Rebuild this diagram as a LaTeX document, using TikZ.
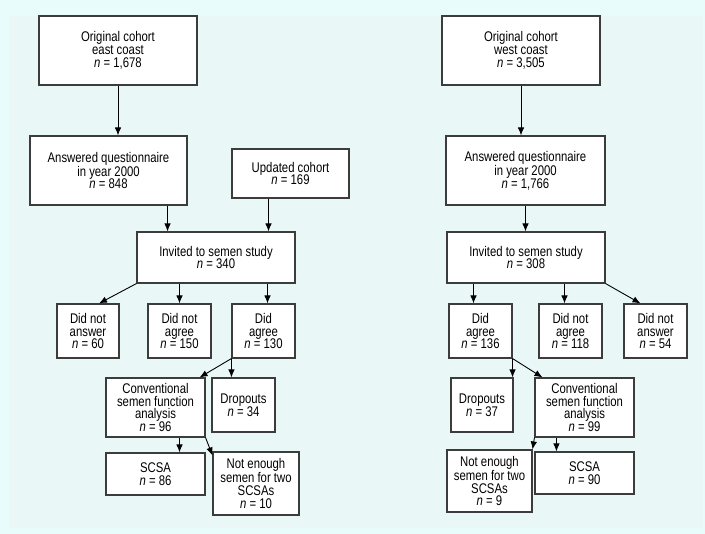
\documentclass[tikz,border=0pt]{standalone}
\usepackage{fontspec}
\setmainfont[FakeStretch=0.81]{Liberation Sans}
\usetikzlibrary{arrows.meta}
\definecolor{bgout}{RGB}{232,252,252}
\definecolor{bgin}{RGB}{234,247,247}
\definecolor{boxline}{RGB}{60,60,60}
\tikzset{
  box/.style={draw=boxline, line width=1.1pt, fill=white, align=center, inner sep=0pt},
  arr/.style={-{Latex[length=8pt,width=6.5pt]}, line width=0.9pt, black}
}
\newcommand{\nn}{\textit{n}}
\begin{document}
\begin{tikzpicture}[x=1pt, y=-1pt, font=\fontsize{14}{12.9}\selectfont]
    \useasboundingbox (0,0) rectangle (705,534);
    \fill[bgout] (0,0) rectangle (705,534);
    \fill[bgin] (9,16) rectangle (703,528);

    % east coast
    \node[box, minimum width=158pt, minimum height=69pt] (oe) at (118,50.5) {Original cohort\\east coast\\\nn{} = 1,678};
    \node[box, minimum width=157pt, minimum height=69pt] (ae) at (108.5,170.5) {Answered questionnaire\\in year 2000\\\nn{} = 848};
    \node[box, minimum width=117pt, minimum height=49pt] (upd) at (290.5,173.5) {Updated cohort\\\nn{} = 169};
    \node[box, minimum width=158pt, minimum height=51pt] (ie) at (216,257.5) {Invited to semen study\\\nn{} = 340};
    \node[box, minimum width=62pt, minimum height=54pt] (nae) at (88,331) {Did not\\answer\\\nn{} = 60};
    \node[box, minimum width=63pt, minimum height=54pt] (nge) at (179.5,331) {Did not\\agree\\\nn{} = 150};
    \node[box, minimum width=63pt, minimum height=54pt] (dae) at (263.5,331) {Did\\agree\\\nn{} = 130};
    \node[box, minimum width=99pt, minimum height=59pt] (cve) at (155.5,407.5) {Conventional\\semen function\\analysis\\\nn{} = 96};
    \node[box, minimum width=63pt, minimum height=54pt] (dre) at (243.5,405) {Dropouts\\\nn{} = 34};
    \node[box, minimum width=99pt, minimum height=42pt] (sce) at (155.5,474) {SCSA\\\nn{} = 86};
    \node[box, minimum width=86pt, minimum height=63pt] (nee) at (256,483.5) {Not enough\\semen for two\\SCSAs\\\nn{} = 10};

    \draw[arr] (oe.south) -- (oe.south |- ae.north);
    \draw[arr] ([xshift=-20pt]ae.south east) -- ([xshift=-20pt]ae.south east |- ie.north);
    \draw[arr] ([xshift=-22pt]upd.south) -- ([xshift=-22pt]upd.south |- ie.north);
    \draw[arr] (ie.south west) -- ([xshift=11pt]nae.north);
    \draw[arr] (nge.north |- ie.south) -- (nge.north);
    \draw[arr] ([xshift=4pt]dae.north |- ie.south) -- ([xshift=4pt]dae.north);
    \draw[arr] (dae.south west) -- ([xshift=-6pt]cve.north east);
    \draw[arr] (dae.south west) -- (dae.south west |- dre.north);
    \draw[arr] ([xshift=24pt]cve.south) -- ([xshift=24pt]cve.south |- sce.north);
    \draw[arr] (cve.south east) -- ([yshift=-4pt]nee.north west);

    % west coast
    \node[box, minimum width=158pt, minimum height=69pt] (ow) at (521,50.5) {Original cohort\\west coast\\\nn{} = 3,505};
    \node[box, minimum width=159pt, minimum height=69pt] (aw) at (525.5,170.5) {Answered questionnaire\\in year 2000\\\nn{} = 1,766};
    \node[box, minimum width=158pt, minimum height=51pt] (iw) at (526,257.5) {Invited to semen study\\\nn{} = 308};
    \node[box, minimum width=63pt, minimum height=54pt] (daw) at (480.5,331) {Did\\agree\\\nn{} = 136};
    \node[box, minimum width=63pt, minimum height=54pt] (ngw) at (570.5,331) {Did not\\agree\\\nn{} = 118};
    \node[box, minimum width=63pt, minimum height=54pt] (naw) at (655.5,331) {Did not\\answer\\\nn{} = 54};
    \node[box, minimum width=62pt, minimum height=54pt] (drw) at (482,405) {Dropouts\\\nn{} = 37};
    \node[box, minimum width=99pt, minimum height=59pt] (cvw) at (584.5,407.5) {Conventional\\semen function\\analysis\\\nn{} = 99};
    \node[box, minimum width=85pt, minimum height=62pt] (new) at (489.5,481) {Not enough\\semen for two\\SCSAs\\\nn{} = 9};
    \node[box, minimum width=99pt, minimum height=42pt] (scw) at (584.5,473) {SCSA\\\nn{} = 90};

    \draw[arr] (ow.south) -- (ow.south |- aw.north);
    \draw[arr] (aw.south) -- (aw.south |- iw.north);
    \draw[arr] ([xshift=-7pt]daw.north |- iw.south) -- ([xshift=-7pt]daw.north);
    \draw[arr] ([xshift=-6pt]ngw.north |- iw.south) -- ([xshift=-6pt]ngw.north);
    \draw[arr] (iw.south east) -- ([xshift=-15pt]naw.north);
    \draw[arr] (daw.south east) -- (daw.south east |- drw.north);
    \draw[arr] (daw.south east) -- ([xshift=8pt]cvw.north west);
    \draw[arr] (cvw.south west) -- (new.north east);
    \draw[arr] ([xshift=22pt]cvw.south west) -- ([xshift=22pt]cvw.south west |- scw.north);
\end{tikzpicture}
\end{document}
